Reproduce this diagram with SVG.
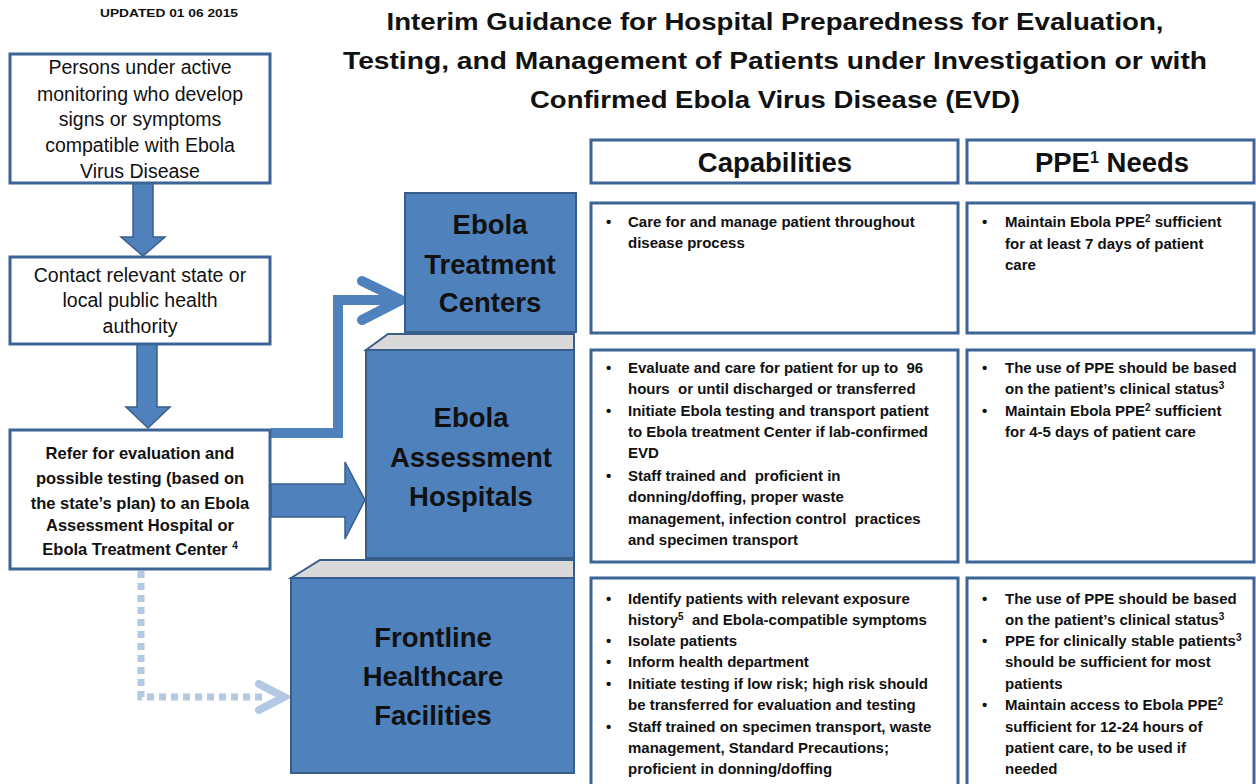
<svg xmlns="http://www.w3.org/2000/svg" width="1256" height="784" viewBox="0 0 1256 784">
<style>
text{font-family:"Liberation Sans",Arial,sans-serif;fill:#111}
.title{font-size:24px;font-weight:bold;text-anchor:middle}
.box{fill:#fff;stroke:#3c6496;stroke-width:3}
.lt{font-size:19.5px;text-anchor:middle}
.lb{font-size:16.5px;font-weight:bold;text-anchor:middle}
.blue{fill:#4f81bd;stroke:#385d8a;stroke-width:2}
.bevel{fill:#d9d9d9;stroke:#385d8a;stroke-width:2}
.bt{font-size:27.5px;font-weight:bold;text-anchor:middle}
.hd{font-size:27.5px;font-weight:bold;text-anchor:middle}
.ct{font-size:15px;font-weight:bold}
.sup{font-size:10px}
.arrow{fill:#4f81bd;stroke:#385d8a;stroke-width:1.5}
</style>
<text x="169" y="17" style="font-size:11.5px;font-weight:bold;text-anchor:middle" textLength="138" lengthAdjust="spacingAndGlyphs">UPDATED 01 06 2015</text>
<g id="title">
<text class="title" x="775" y="30" textLength="777" lengthAdjust="spacingAndGlyphs">Interim Guidance for Hospital Preparedness for Evaluation,</text>
<text class="title" x="775" y="69" textLength="864" lengthAdjust="spacingAndGlyphs">Testing, and Management of Patients under Investigation or with</text>
<text class="title" x="775" y="108" textLength="490" lengthAdjust="spacingAndGlyphs">Confirmed Ebola Virus Disease (EVD)</text>
</g>
<g id="connectors">
<path class="arrow" d="M133,183 L153,183 L153,237 L165,237 L143,256 L121,237 L133,237 Z"/>
<path class="arrow" d="M137,344 L157,344 L157,407 L170,407 L148,428 L126,407 L137,407 Z"/>
<path d="M271,433 L338,433 L338,300 L398,300" fill="none" stroke="#4f81bd" stroke-width="10"/>
<path d="M362,281 L401,300 L362,320" fill="none" stroke="#4f81bd" stroke-width="10" stroke-linecap="round" stroke-linejoin="miter"/>
<path class="arrow" d="M271,484 L345,484 L345,462 L365,500 L345,539 L345,517 L271,517 Z"/>
<path d="M141,571 L141,697 L262,697" fill="none" stroke="#b3c8e2" stroke-width="7" stroke-dasharray="7,5"/>
<path d="M259,684 L284,697 L259,710" fill="none" stroke="#b3c8e2" stroke-width="8" stroke-linecap="round"/>
</g>
<g id="n-persons">
<rect class="box" x="10" y="54" width="260" height="129"/>
<text class="lt" x="140" y="74">Persons under active</text>
<text class="lt" x="140" y="101">monitoring who develop</text>
<text class="lt" x="140" y="126">signs or symptoms</text>
<text class="lt" x="140" y="152">compatible with Ebola</text>
<text class="lt" x="140" y="178">Virus Disease</text>
</g>
<g id="n-contact">
<rect class="box" x="10" y="257" width="260" height="87"/>
<text class="lt" x="140" y="282">Contact relevant state or</text>
<text class="lt" x="140" y="307">local public health</text>
<text class="lt" x="140" y="333">authority</text>
</g>
<g id="n-refer">
<rect class="box" x="10" y="430" width="260" height="139"/>
<text class="lb" x="140" y="459">Refer for evaluation and</text>
<text class="lb" x="140" y="484">possible testing (based on</text>
<text class="lb" x="140" y="509">the state’s plan) to an Ebola</text>
<text class="lb" x="140" y="531">Assessment Hospital or</text>
<text class="lb" x="140" y="555">Ebola Treatment Center <tspan class="sup" dy="-6">4</tspan></text>
</g>
<g id="n-etc">
<rect class="blue" x="405" y="193" width="171" height="139"/>
<text class="bt" x="490" y="234">Ebola</text>
<text class="bt" x="490" y="274">Treatment</text>
<text class="bt" x="490" y="312">Centers</text>
</g>
<g id="n-eah">
<path class="bevel" d="M366,350 L388,334 L574,334 L574,350 Z"/>
<rect class="blue" x="366" y="350" width="208" height="208"/>
<text class="bt" x="471" y="427">Ebola</text>
<text class="bt" x="471" y="467">Assessment</text>
<text class="bt" x="471" y="506">Hospitals</text>
</g>
<g id="n-front">
<path class="bevel" d="M291,578 L320,560 L574,560 L574,578 Z"/>
<rect class="blue" x="291" y="578" width="283" height="195"/>
<text class="bt" x="433" y="647">Frontline</text>
<text class="bt" x="433" y="686">Healthcare</text>
<text class="bt" x="433" y="725">Facilities</text>
</g>
<g id="h-cap">
<rect class="box" x="591" y="140" width="367" height="43"/>
<text class="hd" x="775" y="172">Capabilities</text>
</g>
<g id="h-ppe">
<rect class="box" x="967" y="140" width="287" height="43"/>
<text class="hd" x="1112" y="172">PPE<tspan style="font-size:16px" dy="-9">1</tspan><tspan dy="9"> Needs</tspan></text>
</g>
<g id="cap-etc">
<rect class="box" x="591" y="203" width="367" height="130"/>
<text class="ct" x="606" y="227">•</text>
<text class="ct" x="628" y="227">Care for and manage patient throughout</text>
<text class="ct" x="628" y="248">disease process</text>
</g>
<g id="ppe-etc">
<rect class="box" x="967" y="203" width="287" height="130"/>
<text class="ct" x="982" y="227">•</text>
<text class="ct" x="1005" y="227">Maintain Ebola PPE<tspan class="sup" dy="-5">2</tspan><tspan dy="5"> sufficient</tspan></text>
<text class="ct" x="1005" y="249">for at least 7 days of patient</text>
<text class="ct" x="1005" y="270">care</text>
</g>
<g id="cap-eah">
<rect class="box" x="591" y="350" width="367" height="212"/>
<text class="ct" x="606" y="373">•</text>
<text class="ct" x="628" y="373" xml:space="preserve">Evaluate and care for patient for up to  96</text>
<text class="ct" x="628" y="394" xml:space="preserve">hours  or until discharged or transferred</text>
<text class="ct" x="606" y="416">•</text>
<text class="ct" x="628" y="416">Initiate Ebola testing and transport patient</text>
<text class="ct" x="628" y="437">to Ebola treatment Center if lab-confirmed</text>
<text class="ct" x="628" y="458">EVD</text>
<text class="ct" x="606" y="481">•</text>
<text class="ct" x="628" y="481" xml:space="preserve">Staff trained and  proficient in</text>
<text class="ct" x="628" y="502">donning/doffing, proper waste</text>
<text class="ct" x="628" y="524" xml:space="preserve">management, infection control  practices</text>
<text class="ct" x="628" y="545">and specimen transport</text>
</g>
<g id="ppe-eah">
<rect class="box" x="967" y="350" width="287" height="212"/>
<text class="ct" x="982" y="373">•</text>
<text class="ct" x="1005" y="373">The use of PPE should be based</text>
<text class="ct" x="1005" y="394">on the patient’s clinical status<tspan class="sup" dy="-5">3</tspan></text>
<text class="ct" x="982" y="416">•</text>
<text class="ct" x="1005" y="416">Maintain Ebola PPE<tspan class="sup" dy="-5">2</tspan><tspan dy="5"> sufficient</tspan></text>
<text class="ct" x="1005" y="437">for 4-5 days of patient care</text>
</g>
<g id="cap-front">
<rect class="box" x="591" y="578" width="367" height="210"/>
<text class="ct" x="606" y="604">•</text>
<text class="ct" x="628" y="604">Identify patients with relevant exposure</text>
<text class="ct" x="628" y="625">history<tspan class="sup" dy="-5">5</tspan><tspan dy="5" xml:space="preserve">  and Ebola-compatible symptoms</tspan></text>
<text class="ct" x="606" y="646">•</text>
<text class="ct" x="628" y="646">Isolate patients</text>
<text class="ct" x="606" y="667">•</text>
<text class="ct" x="628" y="667">Inform health department</text>
<text class="ct" x="606" y="689">•</text>
<text class="ct" x="628" y="689">Initiate testing if low risk; high risk should</text>
<text class="ct" x="628" y="710">be transferred for evaluation and testing</text>
<text class="ct" x="606" y="732">•</text>
<text class="ct" x="628" y="732">Staff trained on specimen transport, waste</text>
<text class="ct" x="628" y="753">management, Standard Precautions;</text>
<text class="ct" x="628" y="774">proficient in donning/doffing</text>
</g>
<g id="ppe-front">
<rect class="box" x="967" y="578" width="287" height="210"/>
<text class="ct" x="982" y="604">•</text>
<text class="ct" x="1005" y="604">The use of PPE should be based</text>
<text class="ct" x="1005" y="625">on the patient’s clinical status<tspan class="sup" dy="-5">3</tspan></text>
<text class="ct" x="982" y="646">•</text>
<text class="ct" x="1005" y="646">PPE for clinically stable patients<tspan class="sup" dy="-5">3</tspan></text>
<text class="ct" x="1005" y="667">should be sufficient for most</text>
<text class="ct" x="1005" y="689">patients</text>
<text class="ct" x="982" y="710">•</text>
<text class="ct" x="1005" y="710">Maintain access to Ebola PPE<tspan class="sup" dy="-5">2</tspan></text>
<text class="ct" x="1005" y="732">sufficient for 12-24 hours of</text>
<text class="ct" x="1005" y="753">patient care, to be used if</text>
<text class="ct" x="1005" y="774">needed</text>
</g>
</svg>
